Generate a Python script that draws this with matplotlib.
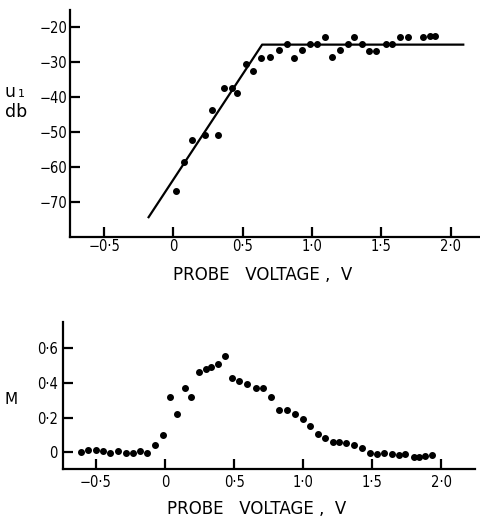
import matplotlib
matplotlib.use("Agg")
import matplotlib.pyplot as plt
from matplotlib import font_manager

# ---- top panel data: u1 (dB) vs probe voltage ----
u_volt = [0.016, 0.078, 0.131, 0.227, 0.28, 0.319, 0.367, 0.42, 0.46, 0.521, 0.572,
          0.63, 0.697, 0.762, 0.82, 0.868, 0.925, 0.988, 1.038, 1.094, 1.147, 1.202,
          1.258, 1.303, 1.363, 1.411, 1.464, 1.534, 1.578, 1.635, 1.691, 1.804, 1.852, 1.888]
u_db = [-66.9, -58.7, -52.3, -50.7, -43.7, -50.7, -37.5, -37.5, -38.9, -30.4, -32.6,
        -28.7, -28.5, -26.6, -24.7, -28.7, -26.6, -24.7, -24.9, -22.9, -28.5, -26.6,
        -24.7, -22.8, -24.7, -26.8, -26.8, -24.7, -24.9, -22.8, -22.8, -22.8, -22.6, -22.6]
fit_volt = [-0.184, 0.64, 2.10]
fit_db = [-74.6, -25.0, -25.0]

# ---- bottom panel data: M vs probe voltage ----
m_volt = [-0.609, -0.556, -0.502, -0.447, -0.396, -0.338, -0.285, -0.229, -0.181, -0.13,
          -0.072, -0.014, 0.036, 0.089, 0.145, 0.191, 0.244, 0.295, 0.333, 0.384, 0.437,
          0.485, 0.536, 0.597, 0.657, 0.712, 0.768, 0.828, 0.882, 0.944, 1.002, 1.051,
          1.111, 1.159, 1.215, 1.261, 1.312, 1.372, 1.425, 1.483, 1.534, 1.587, 1.647,
          1.698, 1.741, 1.802, 1.841, 1.882, 1.937]
m_val = [0.0, 0.012, 0.012, 0.008, -0.004, 0.008, -0.004, -0.004, 0.008, -0.004,
         0.042, 0.101, 0.319, 0.221, 0.369, 0.317, 0.465, 0.48, 0.493, 0.507, 0.553,
         0.43, 0.413, 0.394, 0.369, 0.369, 0.317, 0.242, 0.242, 0.223, 0.194, 0.152,
         0.104, 0.081, 0.059, 0.057, 0.055, 0.044, 0.023, -0.006, -0.012, -0.006, -0.01,
         -0.013, -0.01, -0.025, -0.025, -0.021, -0.013]

top_xticks = [-0.5, 0.0, 0.5, 1.0, 1.5, 2.0]
top_xlabels = ["\u22120\u00b75", "0", "0\u00b75", "1\u00b70", "1\u00b75", "2\u00b70"]
top_yticks = [-20, -30, -40, -50, -60, -70]
top_ylabels = ["\u221220", "\u221230", "\u221240", "\u221250", "\u221260", "\u221270"]
bot_xticks = top_xticks
bot_xlabels = top_xlabels
bot_yticks = [0.0, 0.2, 0.4, 0.6]
bot_ylabels = ["0", "0\u00b72", "0\u00b74", "0\u00b76"]

plt.rcParams['font.family'] = ['DejaVu Sans']

has_condensed = any(f.name == "DejaVu Sans" and str(f.stretch) in ("condensed", "semi-condensed")
                    for f in font_manager.fontManager.ttflist)
tick_kw = dict(family="DejaVu Sans", stretch="condensed", size=10.5) if has_condensed \
    else dict(family="DejaVu Sans", size=9.5)

W, H = 481, 519
fig = plt.figure(figsize=(W / 100, H / 100), dpi=100)

def px_axes(l, t, r, b):
    return fig.add_axes([l / W, (H - b) / H, (r - l) / W, (b - t) / H])

def style(ax, xpad, ypad):
    for s in ("top", "right"):
        ax.spines[s].set_visible(False)
    for s in ("left", "bottom"):
        ax.spines[s].set_linewidth(1.6)
    ax.tick_params(axis="both", direction="in", length=7, width=1.6, colors="black")
    ax.tick_params(axis="x", pad=xpad)
    ax.tick_params(axis="y", pad=ypad)
    for lab in ax.get_xticklabels() + ax.get_yticklabels():
        lab.set_fontproperties(font_manager.FontProperties(**tick_kw))

# top panel
ax1 = px_axes(70, 10, 481, 237)
ax1.set_xlim(-0.747, 2.22)
ax1.set_ylim(-80, -15.1)
ax1.plot(fit_volt, fit_db, color="black", lw=1.6, solid_capstyle="butt")
ax1.plot(u_volt, u_db, "o", color="black", ms=4.0, mec="black")
ax1.set_xticks(top_xticks)
ax1.set_xticklabels(top_xlabels)
ax1.set_yticks(top_yticks)
ax1.set_yticklabels(top_ylabels)
style(ax1, 1.5, 2)

# bottom panel
ax2 = px_axes(63.3, 321.7, 475, 469)
ax2.set_xlim(-0.737, 2.245)
ax2.set_ylim(-0.096, 0.753)
ax2.plot(m_volt, m_val, "o", color="black", ms=4.0, mec="black")
ax2.set_xticks(bot_xticks)
ax2.set_xticklabels(bot_xlabels)
ax2.set_yticks(bot_yticks)
ax2.set_yticklabels(bot_ylabels)
style(ax2, 4, 4)

def ftext(x, y, s, **kw):
    fig.text(x / W, (H - y) / H, s, **kw)

# axis labels
ftext(263, 280, "PROBE   VOLTAGE ,  V", fontsize=12, ha="center", va="baseline")
ftext(257, 514, "PROBE   VOLTAGE ,  V", fontsize=12, ha="center", va="baseline")
ftext(5, 97, "u", fontsize=12.5, ha="left", va="baseline")
ftext(18, 97, "1", fontsize=8, ha="left", va="baseline")
ftext(5, 117, "db", fontsize=12.5, ha="left", va="baseline")
ftext(4, 404, "M", fontsize=11, ha="left", va="baseline")

fig.savefig("out.png", dpi=100)
